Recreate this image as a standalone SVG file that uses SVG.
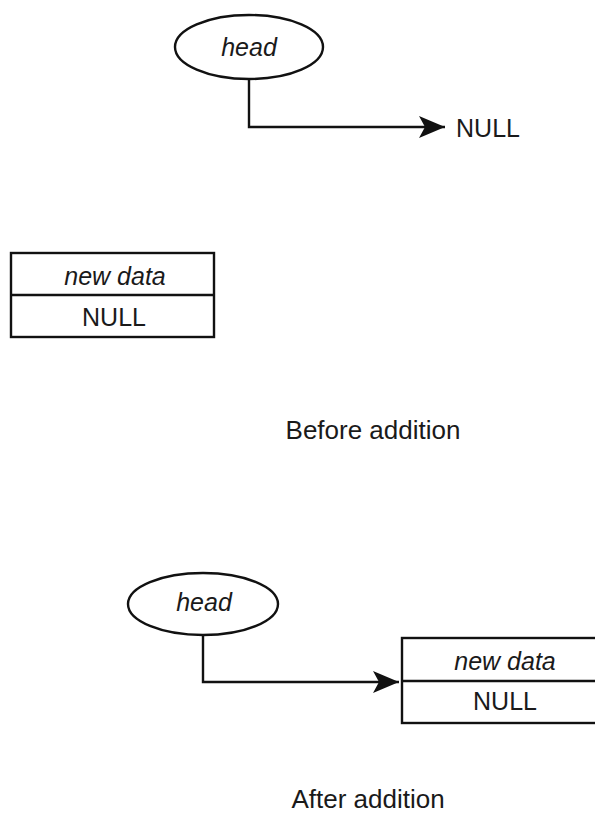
<svg xmlns="http://www.w3.org/2000/svg" width="595" height="819" viewBox="0 0 595 819">
  <style>
    .shape { fill: #ffffff; stroke: #111111; stroke-width: 2.4; }
    .wire { fill: none; stroke: #111111; stroke-width: 2.4; }
    .lbl { font-family: "Liberation Sans", Arial, sans-serif; font-size: 25px; fill: #1a1a1a; text-anchor: middle; }
    .it { font-style: italic; }
    .cap { font-family: "Liberation Sans", Arial, sans-serif; font-size: 26px; fill: #1a1a1a; text-anchor: middle; }
  </style>
  <defs>
    <marker id="arrow" markerWidth="26" markerHeight="22" refX="26" refY="11" markerUnits="userSpaceOnUse" orient="auto">
      <path d="M0,0 L26,11 L0,22 L6,11 Z" fill="#111111"/>
    </marker>
  </defs>
  <rect width="595" height="819" fill="#ffffff"/>

  <!-- Before addition -->
  <g id="head-before">
    <ellipse class="shape" cx="249" cy="47" rx="74" ry="32"/>
    <text class="lbl it" x="249" y="56">head</text>
  </g>
  <g id="null-before">
    <text class="lbl" x="488" y="137">NULL</text>
  </g>
  <g id="node-before">
    <rect class="shape" x="11" y="253" width="203" height="84"/>
    <line class="wire" x1="11" y1="295" x2="214" y2="295"/>
    <text class="lbl it" x="115" y="285">new data</text>
    <text class="lbl" x="114" y="326">NULL</text>
  </g>
  <g id="caption-before">
    <text class="cap" x="373" y="439">Before addition</text>
  </g>

  <!-- After addition -->
  <g id="head-after">
    <ellipse class="shape" cx="203" cy="604" rx="75" ry="31"/>
    <text class="lbl it" x="204" y="611">head</text>
  </g>
  <g id="node-after">
    <rect class="shape" x="402" y="638" width="210" height="85"/>
    <line class="wire" x1="402" y1="681" x2="612" y2="681"/>
    <text class="lbl it" x="505" y="670">new data</text>
    <text class="lbl" x="505" y="710">NULL</text>
  </g>
  <g id="caption-after">
    <text class="cap" x="368" y="808">After addition</text>
  </g>

  <g id="connectors">
    <path class="wire" d="M249,79 V127 H445" marker-end="url(#arrow)"/>
    <path class="wire" d="M203,635 V682 H399" marker-end="url(#arrow)"/>
  </g>
</svg>
